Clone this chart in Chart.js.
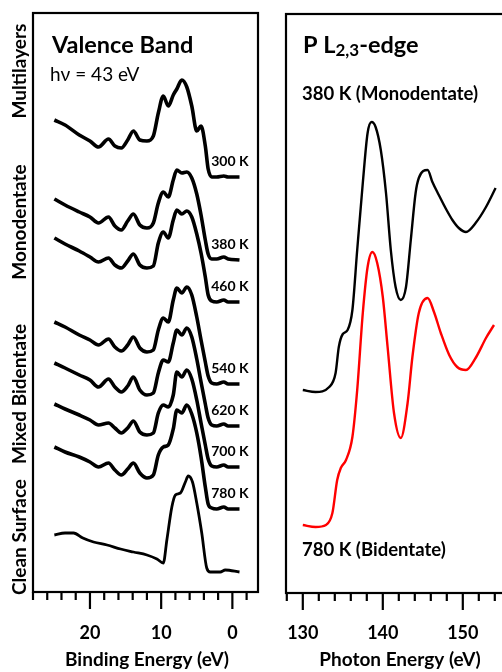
<!DOCTYPE html>
<html>
<head>
<meta charset="utf-8">
<script src="https://cdn.jsdelivr.net/npm/chart.js@4.4.1/dist/chart.umd.min.js"></script>
<style>
  html, body { margin: 0; padding: 0; background: #fff; overflow: hidden; }
  body { width: 502px; height: 672px; position: relative; }
  #vbWrap { position: absolute; left: 0; top: 0; width: 262px; height: 672px; }
  #pleWrap { position: absolute; left: 262px; top: 0; width: 270px; height: 672px; }
</style>
</head>
<body>
<div id="vbWrap"><canvas id="vbChart" width="262" height="672"></canvas></div>
<div id="pleWrap"><canvas id="pleChart" width="270" height="672"></canvas></div>
<script>
// ── Valence band data (binding energy in eV, intensity in a.u. above each trace's baseline) ──
const vbEnergy = [25, 23.5, 21.5, 20, 18.8, 17.4, 16.5, 15.6, 14.7, 13.9, 13, 12, 11.1, 10.4, 9.7, 9.0,
                  8.3, 7.8, 7.1, 6.4, 5.7, 5.0, 4.4, 3.8, 3.4, 2.9, 2.2, 1.2, 0.6, -1];
const vb300 = [57, 52, 42, 36, 30, 38, 31, 29, 37, 46, 37, 36, 41, 64, 81, 71, 82, 88, 97, 90, 71, 46, 51, 31, 8, 0, 0, 1, 0, 0];
const vb380 = [61, 55, 48, 43, 37, 43, 34, 30, 39, 46, 35, 32, 37, 57, 68, 63, 80, 90, 87, 88, 82, 66, 45, 20, 6, 1, 1, 3, 1, 0];
const vb460 = [64, 58, 51, 45, 40, 44, 37, 34, 41, 48, 37, 34, 36, 59, 70, 64, 82, 92, 88, 91, 85, 68, 49, 25, 7, 1, 0, 2, 0, 0];
const vb540 = [62, 57, 49, 44, 39, 45, 37, 33, 39, 47, 36, 32, 34, 54, 66, 62, 84, 96, 91, 97, 89, 67, 44, 22, 8, 1, 0, 2, 0, 0];
const vb620 = [63, 58, 51, 46, 39, 47, 39, 34, 40, 49, 36, 31, 33, 53, 66, 64, 83, 96, 91, 98, 89, 67, 44, 22, 8, 1, 0, 2, 0, 0];
const vb700 = [63, 58, 52, 47, 42, 44, 39, 34, 39, 46, 35, 32, 34, 54, 62, 60, 72, 95, 90, 97, 88, 67, 44, 22, 8, 1, 0, 2, 0, 0];
const vb780 = [62, 57, 52, 47, 42, 46, 39, 34, 40, 46, 36, 31, 34, 54, 62, 64, 80, 99, 96, 104, 95, 76, 52, 22, 5, 1, 0, 2, 0, 0];
const vbSeries  = [vb300, vb380, vb460, vb540, vb620, vb700, vb780];
const vbTemps   = ['300 K', '380 K', '460 K', '540 K', '620 K', '700 K', '780 K'];
const vbOffsets = [415, 332, 290, 208, 166, 125, 83];

const cleanEnergy = [25, 23.5, 22.3, 21, 19.5, 17.6, 15.7, 13.9, 12, 10.6, 9.7, 9.2, 8.5, 8.0, 7.3, 6.6, 6.2,
                     5.6, 5.0, 4.3, 3.6, 3.1, 1.7, 1.0, -1];
const cleanVals   = [37, 39, 39, 34, 30, 27, 23, 20, 17, 13, 9, 32, 65, 77, 79, 90, 96, 90, 69, 39, 4, 0, 0, 2, 0];
const cleanOffset = 20;

const vbMajorTicks = [0, 10, 20];
const vbMinorTicks = [-2, 0, 2, 4, 6, 8, 10, 12, 14, 16, 18, 20, 22, 24, 26, 28];
const vbSideLabels = ['Multilayers', 'Monodentate', 'Mixed Bidentate', 'Clean Surface'];

// ── P L2,3-edge NEXAFS data (photon energy in eV) ──
const monoEnergy = [130, 131.6, 133.3, 134.1, 134.5, 135.0, 135.6, 136.2, 136.8, 137.5, 138.1, 138.6, 139.1,
                    139.75, 140.4, 141.0, 141.6, 142.25, 142.9, 143.5, 144.1, 144.5, 145.6, 146.2, 147.0,
                    147.9, 148.7, 149.5, 150.4, 151.6, 152.9, 154.1];
const monoVals   = [0, -2, 3, 17, 43, 56, 60, 80, 140, 207, 257, 268, 263, 240, 197, 140, 103, 90, 103, 150,
                    197, 212, 220, 208, 195, 181, 170, 162, 158, 167, 183, 202];
const monoOffset = 203;

const biEnergy = [130, 131.6, 132.9, 133.7, 134.3, 134.75, 135.4, 136.2, 136.8, 137.5, 138.1, 138.7, 139.3,
                  140.0, 140.6, 141.4, 142.25, 143.1, 143.7, 144.5, 145.6, 146.4, 147.25, 148.3, 149.3,
                  150.4, 151.6, 152.9, 153.9];
const biVals   = [0, -2, 0, 12, 45, 57, 65, 88, 135, 212, 258, 273, 262, 228, 178, 112, 87, 122, 168, 212,
                  227, 213, 192, 170, 158, 155, 167, 187, 200];
const biOffset = 68;

const pleMajorTicks = [130, 140, 150];
const pleMinorTicks = [128, 130, 132, 134, 136, 138, 140, 142, 144, 146, 148, 150, 152, 154, 156];

const FONT = 'Lato, "Open Sans", sans-serif';

// ── Helpers ──
function toPoints(xs, ys, offset) {
  return xs.map((x, i) => ({ x, y: offset + ys[i] }));
}

function lineSet(data, color, width) {
  return {
    data,
    borderColor: color,
    borderWidth: width,
    pointRadius: 0,
    cubicInterpolationMode: 'monotone',
    fill: false,
  };
}

// Draws the boxed frame, outward tick marks, tick labels, axis title and panel texts
const panelDeco = {
  id: 'panelDeco',
  afterDraw(chart, args, opts) {
    const { ctx, chartArea: a } = chart;
    const xs = chart.scales.x;
    const ys = chart.scales.y;
    ctx.save();
    ctx.strokeStyle = '#000';
    ctx.fillStyle = '#000';
    ctx.lineWidth = 2.2;
    ctx.strokeRect(a.left, a.top, a.right - a.left, a.bottom - a.top);

    // tick marks: long at labelled values, short every 2 eV
    opts.minor.forEach(v => {
      const px = xs.getPixelForValue(v);
      if (px < a.left - 2 || px > a.right + 2) return;
      const len = opts.major.includes(v) ? 17 : 8;
      ctx.beginPath();
      ctx.moveTo(px, a.bottom);
      ctx.lineTo(px, a.bottom + len);
      ctx.stroke();
    });

    ctx.textAlign = 'center';
    ctx.textBaseline = 'middle';
    ctx.font = 'bold 18px ' + FONT;
    opts.major.forEach(v => ctx.fillText(String(v), xs.getPixelForValue(v), 633));

    ctx.font = 'bold 19px ' + FONT;
    ctx.fillText(opts.title, opts.titleX, 660);

    if (opts.draw) opts.draw(ctx, xs, ys);
    ctx.restore();
  },
};

// ── Valence band panel ──
const vbDatasets = vbSeries.map((s, i) => lineSet(toPoints(vbEnergy, s, vbOffsets[i]), '#000', 3.6));
vbDatasets.push(lineSet(toPoints(cleanEnergy, cleanVals, cleanOffset), '#000', 2.8));

new Chart(document.getElementById('vbChart'), {
  type: 'line',
  data: { datasets: vbDatasets },
  plugins: [panelDeco],
  options: {
    responsive: false,
    animation: false,
    devicePixelRatio: 1,
    layout: { padding: { left: 33, right: 4, top: 13, bottom: 80 } },
    scales: {
      x: { type: 'linear', min: -3.6, max: 28, reverse: true, display: false },
      y: { type: 'linear', min: 0, max: 579, display: false },
    },
    plugins: {
      legend: { display: false },
      tooltip: { enabled: false },
      panelDeco: {
        major: vbMajorTicks,
        minor: vbMinorTicks,
        title: 'Binding Energy (eV)',
        titleX: 147,
        draw(ctx, xs, ys) {
          ctx.textAlign = 'left';
          ctx.font = 'bold 23.5px ' + FONT;
          ctx.fillText('Valence Band', 52, 45);
          ctx.font = '19px ' + FONT;
          ctx.fillText('h\u03BD = 43 eV', 50, 75);

          // temperature labels sit just above each trace's flat tail
          ctx.textAlign = 'center';
          ctx.font = 'bold 14px ' + FONT;
          vbTemps.forEach((t, i) => {
            ctx.fillText(t, xs.getPixelForValue(0.35), ys.getPixelForValue(vbOffsets[i] + 16));
          });

          // rotated phase labels on the left
          ctx.font = 'bold 19px ' + FONT;
          const centers = [71, 222, 394, 537];
          vbSideLabels.forEach((t, i) => {
            ctx.save();
            ctx.translate(20, centers[i]);
            ctx.rotate(-Math.PI / 2);
            ctx.fillText(t, 0, 0);
            ctx.restore();
          });
        },
      },
    },
  },
});

// ── P L2,3-edge panel ──
new Chart(document.getElementById('pleChart'), {
  type: 'line',
  data: {
    datasets: [
      lineSet(toPoints(monoEnergy, monoVals, monoOffset), '#000', 2.4),
      lineSet(toPoints(biEnergy, biVals, biOffset), '#ff0000', 2.4),
    ],
  },
  plugins: [panelDeco],
  options: {
    responsive: false,
    animation: false,
    devicePixelRatio: 1,
    layout: { padding: { left: 24, right: 12, top: 14, bottom: 79 } },
    scales: {
      x: { type: 'linear', min: 127.9, max: 157.15, display: false },
      y: { type: 'linear', min: 0, max: 579, display: false },
    },
    plugins: {
      legend: { display: false },
      tooltip: { enabled: false },
      panelDeco: {
        major: pleMajorTicks,
        minor: pleMinorTicks,
        title: 'Photon Energy (eV)',
        titleX: 138,
        draw(ctx) {
          ctx.textAlign = 'left';
          let x = 41;
          ctx.font = 'bold 23.5px ' + FONT;
          ctx.fillText('P L', x, 45);
          x += ctx.measureText('P L').width;
          ctx.font = 'bold 17px ' + FONT;
          ctx.fillText('2,3', x, 51);
          x += ctx.measureText('2,3').width;
          ctx.font = 'bold 23.5px ' + FONT;
          ctx.fillText('-edge', x, 45);

          ctx.font = 'bold 18.5px ' + FONT;
          ctx.fillText('380 K (Monodentate)', 40, 94);
          ctx.fillText('780 K (Bidentate)', 40, 550);
        },
      },
    },
  },
});
</script>
</body>
</html>
